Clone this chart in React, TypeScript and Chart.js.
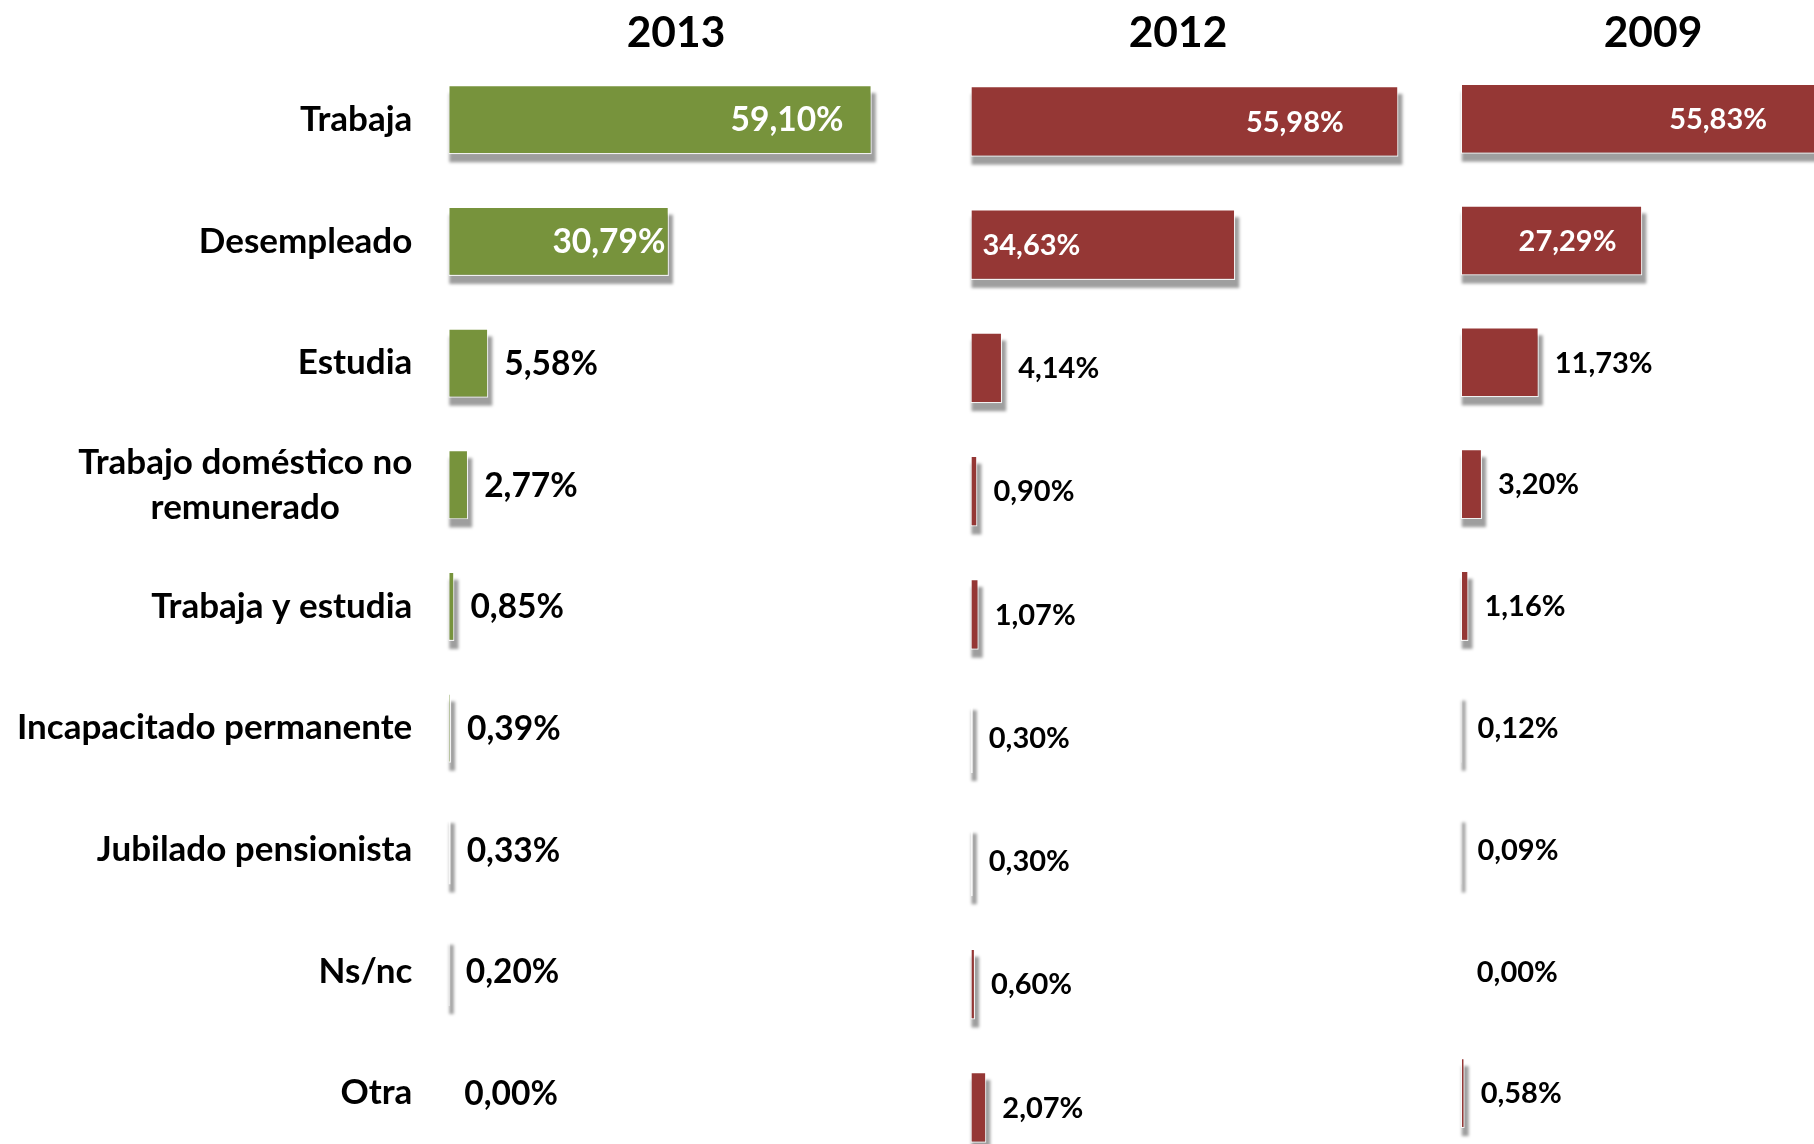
import React, { useEffect, useRef } from 'react';
import { Chart, registerables } from 'chart.js';

Chart.register(...registerables);

// ---- data ----
const categories: (string | string[])[] = [
  'Trabaja',
  'Desempleado',
  'Estudia',
  ['Trabajo doméstico no', 'remunerado'],
  'Trabaja y estudia',
  'Incapacitado permanente',
  'Jubilado pensionista',
  'Ns/nc',
  'Otra',
];
const years = ['2013', '2012', '2009'];
const values2013 = [59.1, 30.79, 5.58, 2.77, 0.85, 0.39, 0.33, 0.2, 0.0];
const values2012 = [55.98, 34.63, 4.14, 0.9, 1.07, 0.3, 0.3, 0.6, 2.07];
const values2009 = [55.83, 27.29, 11.73, 3.2, 1.16, 0.12, 0.09, 0.0, 0.58];

// ---- styles ----
const GREEN = '#77933C';
const RED = '#953735';
const FONT = 'Lato, "Open Sans", sans-serif';

type Panel = {
  title: string;
  values: number[];
  color: string;
  left: number;
  width: number;
  height: number;
  areaLeft: number;
  pxPerUnit: number;
  titleBottom: number;
  barRatio: number;
  labelSize: number;
  insideCenters: number[];
  showCategories: boolean;
};

const panels: Panel[] = [
  {
    title: years[0], values: values2013, color: GREEN,
    left: 0, width: 1352, height: 1154, areaLeft: 448.3, pxPerUnit: 7.165,
    titleBottom: 4.35, barRatio: 0.569, labelSize: 33.5, insideCenters: [0.8, 0.728],
    showCategories: true,
  },
  {
    title: years[1], values: values2012, color: RED,
    left: 900, width: 556, height: 1169, areaLeft: 970.5, pxPerUnit: 7.644,
    titleBottom: 5.2, barRatio: 0.574, labelSize: 29, insideCenters: [0.758, 0.23],
    showCategories: false,
  },
  {
    title: years[2], values: values2009, color: RED,
    left: 1400, width: 506, height: 1154, areaLeft: 1460.8, pxPerUnit: 6.65,
    titleBottom: 3.3, barRatio: 0.575, labelSize: 29, insideCenters: [0.693, 0.588],
    showCategories: false,
  },
];

const fmt = (v: number) => v.toFixed(2).replace('.', ',') + '%';

// soft drop shadow behind each bar, using the bar elements' own geometry
const shadowPlugin = {
  id: 'barShadow',
  beforeDatasetsDraw(chart: any) {
    const ctx = chart.ctx;
    const meta = chart.getDatasetMeta(0);
    ctx.save();
    ctx.fillStyle = 'rgba(0,0,0,0.38)';
    ctx.filter = 'blur(1.5px)';
    meta.data.forEach((bar: any) => {
      const { x, y, base, height } = bar.getProps(['x', 'y', 'base', 'height'], true);
      const w = Math.abs(x - base);
      if (w <= 0) return;
      ctx.fillRect(Math.min(x, base) + 1, y - height / 2 + 8, w + 3, height);
    });
    ctx.restore();
  },
};

function makeLabelPlugin(p: Panel) {
  return {
    id: 'valueLabels',
    afterDraw(chart: any) {
      const ctx = chart.ctx;
      const meta = chart.getDatasetMeta(0);
      const vals = chart.data.datasets[0].data as number[];
      ctx.save();
      ctx.font = `bold ${p.labelSize}px ${FONT}`;
      ctx.textBaseline = 'middle';
      meta.data.forEach((bar: any, i: number) => {
        const { x, y, base } = bar.getProps(['x', 'y', 'base'], true);
        const text = fmt(vals[i]);
        const ty = y + 1;
        if (p.insideCenters[i] !== undefined) {
          ctx.fillStyle = '#ffffff';
          ctx.textAlign = 'center';
          ctx.fillText(text, base + p.insideCenters[i] * (x - base), ty);
        } else {
          ctx.fillStyle = '#000000';
          ctx.textAlign = 'left';
          ctx.fillText(text, x + 16, ty);
        }
      });
      ctx.restore();
    },
  };
}

const categoryPlugin = {
  id: 'categoryLabels',
  afterDraw(chart: any) {
    const ctx = chart.ctx;
    const yScale = chart.scales.y;
    const right = yScale.right - 36;
    const lineH = 45;
    ctx.save();
    ctx.font = `bold 35px ${FONT}`;
    ctx.fillStyle = '#000000';
    ctx.textBaseline = 'middle';
    ctx.textAlign = 'center';
    categories.forEach((c, i) => {
      const yc = yScale.getPixelForTick(i);
      const lines = Array.isArray(c) ? c : [c];
      const maxW = Math.max(...lines.map((l) => ctx.measureText(l).width));
      lines.forEach((ln, j) => {
        const yy = yc + (j - (lines.length - 1) / 2) * lineH;
        ctx.fillText(ln, right - maxW / 2, yy);
      });
    });
    ctx.restore();
  },
};

function PanelChart({ p }: { p: Panel }) {
  const ref = useRef<HTMLCanvasElement>(null);
  useEffect(() => {
    if (!ref.current) return;
    const xMax = (p.left + p.width - p.areaLeft) / p.pxPerUnit;
    const plugins: any[] = [shadowPlugin, makeLabelPlugin(p)];
    if (p.showCategories) plugins.push(categoryPlugin);
    const chart = new Chart(ref.current, {
      type: 'bar',
      data: {
        labels: categories.map((c) => (Array.isArray(c) ? c.join(' ') : c)),
        datasets: [
          {
            data: p.values,
            backgroundColor: p.color,
            borderColor: 'rgba(255,255,255,0.85)',
            borderWidth: 1.2,
            borderSkipped: false,
            barPercentage: p.barRatio,
            categoryPercentage: 1,
          },
        ],
      },
      options: {
        indexAxis: 'y',
        responsive: false,
        animation: false,
        devicePixelRatio: 1,
        layout: { padding: 0 },
        plugins: {
          legend: { display: false },
          tooltip: { enabled: false },
          title: {
            display: true,
            text: p.title,
            color: '#000000',
            font: { family: FONT, size: 42.5, weight: 'bold', lineHeight: 1 },
            padding: { top: 12, bottom: p.titleBottom },
            fullSize: true,
            align: 'center',
          },
        },
        scales: {
          x: { display: false, min: 0, max: xMax },
          y: {
            display: p.showCategories,
            grid: { display: false },
            border: { display: false },
            ticks: { display: false },
            afterFit: (s: any) => {
              s.width = p.areaLeft - p.left;
            },
          },
        },
      } as any,
      plugins,
    });
    return () => chart.destroy();
  }, [p]);
  return (
    <canvas
      ref={ref}
      width={p.width}
      height={p.height}
      style={{ position: 'absolute', left: p.left, top: 0, width: p.width, height: p.height }}
    />
  );
}

export default function App() {
  return (
    <div
      style={{
        position: 'fixed',
        left: 0,
        top: 0,
        width: 1814,
        height: 1144,
        overflow: 'hidden',
        background: '#ffffff',
      }}
    >
      {panels.map((p) => (
        <PanelChart key={p.title} p={p} />
      ))}
    </div>
  );
}
